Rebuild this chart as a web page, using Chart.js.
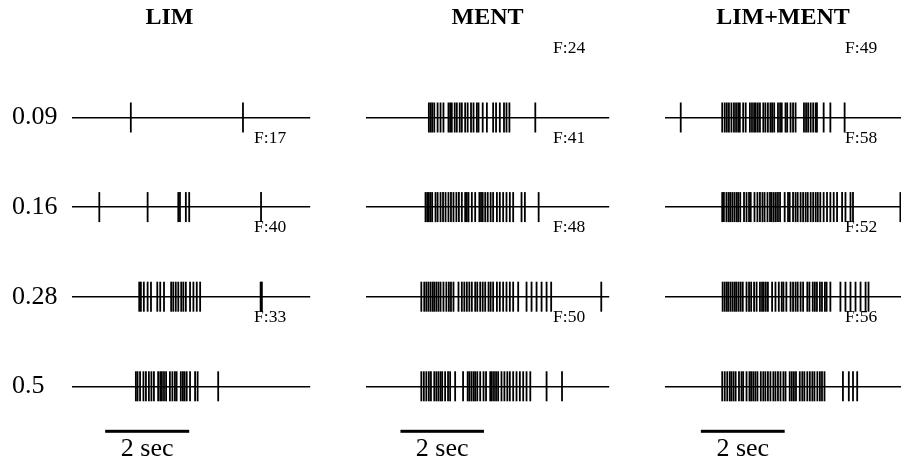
<!DOCTYPE html>
<html>
<head>
<meta charset="UTF-8">
<title>LIM / MENT rasters</title>
<script src="https://cdn.jsdelivr.net/npm/chart.js"></script>
<style>
  body { margin: 0; background: #fff; }
  #wrap { position: relative; width: 901px; height: 461px; overflow: hidden; }
  canvas { position: absolute; top: 0; }
</style>
</head>
<body>
<div id="wrap">
  <canvas id="lim" width="327" height="461" style="left:0"></canvas>
  <canvas id="ment" width="277" height="461" style="left:349px"></canvas>
  <canvas id="both" width="270" height="461" style="left:648px"></canvas>
</div>
<script>
// rows (stimulus level) and spike times in seconds from start of each trace
const rows = ['0.09', '0.16', '0.28', '0.5'];

const limSpikes = [
  [1.40, 4.07],
  [0.65, 1.80, 2.53, 2.57, 2.71, 2.79, 4.50],
  [1.60, 1.64, 1.71, 1.80, 1.88, 2.03, 2.10, 2.19, 2.36, 2.41, 2.47, 2.53, 2.60, 2.65, 2.71, 2.81, 2.89, 2.97, 3.05, 4.49, 4.52],
  [1.52, 1.56, 1.62, 1.70, 1.76, 1.83, 1.89, 1.95, 2.05, 2.10, 2.14, 2.19, 2.24, 2.33, 2.39, 2.45, 2.49, 2.59, 2.64, 2.68, 2.73, 2.81, 2.93, 2.99, 3.48]
];
const mentSpikes = [
  [1.51, 1.55, 1.59, 1.64, 1.72, 1.79, 1.86, 1.98, 2.02, 2.06, 2.13, 2.18, 2.25, 2.30, 2.38, 2.44, 2.52, 2.58, 2.66, 2.70, 2.80, 2.90, 3.05, 3.12, 3.21, 3.31, 3.37, 3.44, 4.06],
  [1.43, 1.47, 1.51, 1.55, 1.59, 1.67, 1.72, 1.79, 1.85, 1.91, 1.98, 2.04, 2.10, 2.17, 2.23, 2.30, 2.38, 2.42, 2.46, 2.54, 2.62, 2.72, 2.76, 2.80, 2.86, 2.92, 2.99, 3.05, 3.14, 3.21, 3.29, 3.37, 3.45, 3.53, 3.73, 3.81, 4.14],
  [1.33, 1.40, 1.45, 1.50, 1.55, 1.60, 1.64, 1.69, 1.74, 1.79, 1.86, 1.93, 1.99, 2.04, 2.10, 2.22, 2.30, 2.36, 2.42, 2.48, 2.54, 2.62, 2.67, 2.74, 2.80, 2.86, 2.94, 2.99, 3.05, 3.14, 3.21, 3.29, 3.37, 3.45, 3.53, 3.65, 3.85, 3.97, 4.09, 4.21, 4.33, 4.44, 5.64],
  [1.33, 1.39, 1.45, 1.51, 1.56, 1.64, 1.69, 1.74, 1.79, 1.83, 1.90, 1.97, 2.02, 2.14, 2.33, 2.44, 2.48, 2.53, 2.58, 2.62, 2.67, 2.74, 2.82, 2.88, 2.98, 3.02, 3.07, 3.12, 3.17, 3.25, 3.32, 3.39, 3.45, 3.53, 3.61, 3.69, 3.77, 3.85, 3.94, 4.33, 4.70]
];
const bothSpikes = [
  [0.38, 1.37, 1.43, 1.48, 1.53, 1.59, 1.65, 1.70, 1.75, 1.79, 1.87, 1.93, 2.03, 2.08, 2.13, 2.17, 2.22, 2.27, 2.35, 2.40, 2.46, 2.52, 2.56, 2.61, 2.70, 2.75, 2.79, 2.88, 2.92, 3.00, 3.06, 3.12, 3.32, 3.37, 3.42, 3.48, 3.54, 3.60, 3.63, 3.79, 3.95, 4.29],
  [1.37, 1.41, 1.47, 1.52, 1.56, 1.61, 1.66, 1.71, 1.75, 1.80, 1.89, 1.95, 2.01, 2.05, 2.14, 2.21, 2.27, 2.33, 2.38, 2.45, 2.51, 2.55, 2.60, 2.65, 2.70, 2.75, 2.86, 2.94, 2.98, 3.06, 3.12, 3.17, 3.24, 3.30, 3.36, 3.41, 3.48, 3.54, 3.60, 3.65, 3.71, 3.79, 3.87, 3.95, 4.03, 4.11, 4.23, 4.31, 4.43, 4.49, 5.62],
  [1.38, 1.43, 1.48, 1.52, 1.57, 1.62, 1.67, 1.71, 1.76, 1.81, 1.86, 1.95, 2.01, 2.06, 2.13, 2.19, 2.27, 2.32, 2.36, 2.41, 2.46, 2.56, 2.64, 2.72, 2.79, 2.83, 2.90, 3.00, 3.06, 3.12, 3.17, 3.24, 3.30, 3.40, 3.45, 3.53, 3.58, 3.63, 3.70, 3.75, 3.82, 3.86, 3.95, 4.19, 4.31, 4.43, 4.55, 4.67, 4.79, 4.86],
  [1.37, 1.43, 1.49, 1.55, 1.59, 1.64, 1.69, 1.77, 1.83, 1.87, 1.95, 2.02, 2.06, 2.11, 2.16, 2.21, 2.29, 2.35, 2.40, 2.46, 2.52, 2.59, 2.64, 2.70, 2.76, 2.83, 2.88, 2.98, 3.03, 3.08, 3.13, 3.22, 3.28, 3.33, 3.40, 3.46, 3.52, 3.57, 3.64, 3.70, 3.75, 3.81, 4.25, 4.39, 4.49, 4.59]
];

// F counts shown above each trace (null = not shown)
const limF = [null, 17, 40, 33];
const mentF = [24, 41, 48, 50];
const bothF = [49, 58, 52, 56];

const barLen = 2; // seconds
const serif = '"Liberation Serif", "Times New Roman", serif';

const extras = {
  id: 'extras',
  afterDraw(chart, args, o) {
    const { ctx, chartArea: a, scales: { x, y } } = chart;
    ctx.save();
    ctx.fillStyle = '#000';
    ctx.font = '17.5px ' + serif;
    ctx.textAlign = 'right';
    ctx.textBaseline = 'middle';
    o.counts.forEach((n, i) => {
      if (n == null) return;
      ctx.fillText('F:' + n, a.right - 24, y.getPixelForValue(i) - 69);
    });
    // scale bar
    const x0 = x.getPixelForValue(o.barStart);
    const x1 = x.getPixelForValue(o.barStart + barLen);
    ctx.fillRect(x0, a.bottom + 43.5, x1 - x0, 3);
    ctx.textAlign = 'center';
    ctx.font = '26px ' + serif;
    ctx.fillText('2 sec', (x0 + x1) / 2, a.bottom + 63);
    ctx.restore();
  }
};

function makeChart(id, title, spikes, counts, xMax, barStart, showLabels) {
  new Chart(document.getElementById(id), {
    type: 'scatter',
    data: {
      datasets: spikes.map((ts, i) => ({
        data: ts.map(t => ({ x: t, y: rows[i] })),
        pointStyle: 'line',
        rotation: 90,
        radius: 15,
        pointBorderColor: '#000',
        pointBorderWidth: 1.8,
        clip: false
      }))
    },
    options: {
      responsive: false,
      animation: false,
      devicePixelRatio: 1,
      layout: { padding: { left: showLabels ? 12 : 0, right: 0, top: 0, bottom: 74.7 } },
      plugins: {
        legend: { display: false },
        tooltip: { enabled: false },
        title: {
          display: true,
          text: title,
          color: '#000',
          font: { family: serif, size: 24, weight: 'bold' },
          padding: { top: 3.6, bottom: 85.1 }
        },
        extras: { counts: counts, barStart: barStart }
      },
      scales: {
        x: { type: 'linear', min: 0, max: xMax, display: false },
        y: {
          type: 'category',
          labels: rows,
          offset: false,
          border: { display: false },
          grid: { color: '#000', lineWidth: 1.5, drawTicks: false },
          ticks: {
            display: showLabels,
            color: '#000',
            crossAlign: 'far',
            padding: 0,
            font: { family: serif, size: 26 }
          },
          afterFit(s) { s.width = showLabels ? 60 : 0; }
        }
      }
    },
    plugins: [extras]
  });
}

makeChart('lim', 'LIM', limSpikes, limF, 5.67, 0.79, true);
makeChart('ment', 'MENT', mentSpikes, mentF, 5.83, 0.83, false);
makeChart('both', 'LIM+MENT', bothSpikes, bothF, 5.64, 0.86, false);
</script>
</body>
</html>
